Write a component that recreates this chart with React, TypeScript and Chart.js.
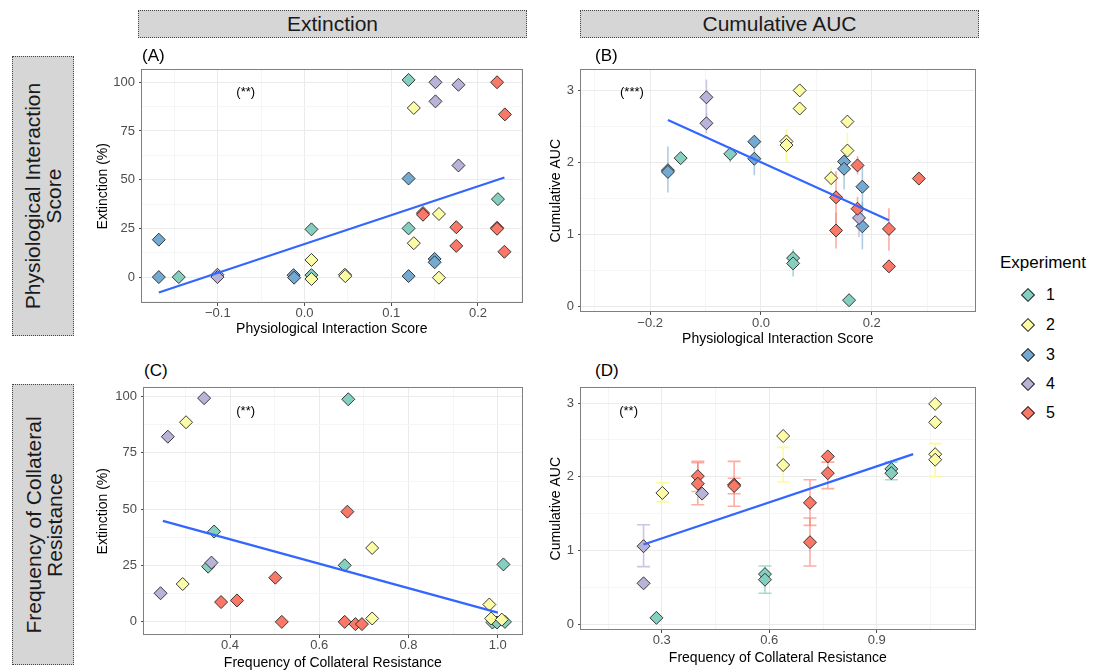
import React, { useEffect, useRef } from 'react';
import { Chart, registerables } from 'chart.js';

Chart.register(...registerables);

const FONT = '"Liberation Sans", Arial, Helvetica, sans-serif';

// Experiment groups and their fill colours
const experiments = ['1', '2', '3', '4', '5'];
const expColors = ['#85CFC0', '#FCFBA6', '#74AAD2', '#B8B3D9', '#F97868'];
const expBarColors = [
  'rgba(133,207,192,0.75)',
  'rgba(252,251,140,0.85)',
  'rgba(116,170,210,0.6)',
  'rgba(184,179,217,0.75)',
  'rgba(249,120,104,0.6)',
];

// (A) Physiological Interaction Score vs Extinction (%) — [score, extinction]
const aExp1 = [[0.120, 101.2], [-0.145, 0], [0.008, 24.5], [0.008, 1], [0.120, 25], [0.223, 40]];
const aExp2 = [[0.126, 86.8], [0.008, 8.8], [0.008, -1], [0.0466, 1.2], [0.047, 0.5], [0.155, 32.4], [0.126, 17.4], [0.155, -0.3]];
const aExp3 = [[-0.168, 19.2], [-0.168, 0], [-0.0126, 1], [-0.012, -0.3], [0.120, 50.6], [0.120, 0.5], [0.150, 9.3], [0.150, 7.6]];
const aExp4 = [[-0.1004, 1.2], [-0.1004, 0], [0.151, 100], [0.151, 90.2], [0.1775, 98.7], [0.1775, 57.3]];
const aExp5 = [[0.222, 100], [0.231, 83.5], [0.1366, 32.9], [0.1366, 32], [0.175, 25.6], [0.175, 16], [0.222, 25.3], [0.222, 24.8], [0.2305, 13]];
const aFit = [[-0.168, -7.9], [0.2305, 51.1]];

// (B) Physiological Interaction Score vs Cumulative AUC — [score, auc, low, high]
const bExp1 = [[-0.145, 2.058, null, null], [-0.0555, 2.117, 2.0, 2.2], [0.058, 0.668, null, null], [0.058, 0.594, 0.41, 0.79], [0.159, 0.082, null, null]];
const bExp2 = [[0.0699, 3.0, null, null], [0.0699, 2.748, null, null], [0.046, 2.29, null, null], [0.046, 2.24, 2.0, 2.46], [0.156, 2.566, null, null], [0.156, 2.163, 1.95, 2.41], [0.1266, 1.78, 1.66, 1.93]];
const bExp3 = [[-0.168, 1.89, null, null], [-0.168, 1.866, 1.58, 2.22], [-0.012, 2.287, null, null], [-0.012, 2.05, 1.82, 2.25], [0.150, 2.01, null, null], [0.150, 1.91, 1.62, 2.0], [0.183, 1.66, 1.37, 1.96], [0.183, 1.11, 0.79, 1.45]];
const bExp4 = [[-0.0985, 2.904, 2.65, 3.15], [-0.0985, 2.543, 2.4, 2.68], [0.177, 1.226, 0.96, 1.4]];
const bExp5 = [[0.1355, 1.513, 1.15, 1.875], [0.1355, 1.052, 0.8, 1.3], [0.1743, 1.957, 1.83, 2.085], [0.1743, 1.354, 1.21, 1.52], [0.231, 1.074, 0.77, 1.36], [0.231, 0.553, null, null], [0.285, 1.774, null, null]];
const bFit = [[-0.168, 2.588], [0.231, 1.194]];

// (C) Frequency of Collateral Resistance vs Extinction (%)
const cExp1 = [[0.665, 98.8], [0.3644, 40.1], [0.351, 24.5], [0.657, 25.1], [1.0126, 25.5], [0.988, -0.3], [0.998, -0.3], [1.016, 0]];
const cExp2 = [[0.3015, 88.6], [0.294, 16.8], [0.7185, 32.8], [0.7185, 1.5], [0.981, 7.7], [0.985, 1.5], [1.009, 1.0]];
const cExp3: number[][] = [];
const cExp4 = [[0.342, 99.3], [0.2607, 82.2], [0.3585, 26.3], [0.2444, 12.7]];
const cExp5 = [[0.663, 48.9], [0.5015, 19.6], [0.38, 8.8], [0.4156, 9.5], [0.516, 0], [0.657, 0], [0.681, -1], [0.6956, -1]];
const cFit = [[0.2496, 44.8], [1.0, 4.1]];

// (D) Frequency of Collateral Resistance vs Cumulative AUC — [freq, auc, low, high]
const dExp1 = [[0.2852, 0.085, null, null], [0.588, 0.679, null, null], [0.588, 0.603, 0.42, 0.79], [0.9406, 2.107, null, null], [0.9406, 2.05, 1.96, 2.2]];
const dExp2 = [[0.3018, 1.781, 1.66, 1.92], [0.6388, 2.554, null, null], [0.6388, 2.16, 1.93, 2.4], [1.063, 2.99, null, null], [1.063, 2.74, null, null], [1.063, 2.307, null, null], [1.063, 2.232, 2.005, 2.45]];
const dExp3: (number | null)[][] = [];
const dExp4 = [[0.2492, 1.058, 0.78, 1.35], [0.2492, 0.554, null, null], [0.4126, 1.772, null, null]];
const dExp5 = [[0.4006, 2.009, 1.8, 2.21], [0.4006, 1.906, 1.62, 2.19], [0.502, 1.893, 1.6, 2.21], [0.502, 1.875, 1.77, 1.98], [0.7136, 1.647, 1.34, 1.96], [0.7136, 1.112, 0.79, 1.44], [0.7634, 2.277, null, null], [0.7634, 2.049, 1.84, 2.2]];
const dFit = [[0.2492, 1.08], [1.0016, 2.308]];

// Axis breaks and labels
const scoreTicksA = [-0.1, 0, 0.1, 0.2];
const scoreLabelsA = ['\u22120.1', '0.0', '0.1', '0.2'];
const scoreMinorA = [-0.15, -0.05, 0.05, 0.15, 0.25];
const scoreTicksB = [-0.2, 0, 0.2];
const scoreLabelsB = ['\u22120.2', '0.0', '0.2'];
const scoreMinorB = [-0.3, -0.1, 0.1, 0.3];
const freqTicksC = [0.4, 0.6, 0.8, 1.0];
const freqLabelsC = ['0.4', '0.6', '0.8', '1.0'];
const freqMinorC = [0.3, 0.5, 0.7, 0.9];
const freqTicksD = [0.3, 0.6, 0.9];
const freqLabelsD = ['0.3', '0.6', '0.9'];
const freqMinorD = [0.15, 0.45, 0.75, 1.05];
const extTicks = [0, 25, 50, 75, 100];
const extLabels = ['0', '25', '50', '75', '100'];
const extMinorA = [-12.5, 12.5, 37.5, 62.5, 87.5];
const extMinorC = [12.5, 37.5, 62.5, 87.5];
const aucTicks = [0, 1, 2, 3];
const aucLabels = ['0', '1', '2', '3'];
const aucMinor = [0.5, 1.5, 2.5];

const colTitles = ['Extinction', 'Cumulative AUC'];
const rowTitles = [['Physiological Interaction', 'Score'], ['Frequency of Collateral', 'Resistance']];

type Row = (number | null)[];

interface PanelCfg {
  left: number; top: number; width: number; height: number;
  yW: number; xH: number; xPad: number;
  xMin: number; xMax: number; yMin: number; yMax: number;
  xMajor: number[]; xLabels: string[]; xMinor: number[];
  yMajor: number[]; yLabels: string[]; yMinor: number[];
  xTitle: string; yTitle: string;
  series: Row[][]; fit: number[][];
  note: { x: number; y: number; text: string };
  cap: number;
}

const errorBarPlugin = {
  id: 'errorBars',
  beforeDatasetsDraw(chart: any, _args: any, opts: any) {
    const { ctx } = chart;
    const xs = chart.scales.x;
    const ys = chart.scales.y;
    const cap = opts.cap || 0;
    chart.data.datasets.forEach((ds: any) => {
      if (!ds.errorBars || !ds.errorBars.length) return;
      ctx.save();
      ctx.strokeStyle = ds.errorColor;
      ctx.lineWidth = 1.6;
      ds.errorBars.forEach((b: number[]) => {
        const px = xs.getPixelForValue(b[0]);
        const p1 = ys.getPixelForValue(b[1]);
        const p2 = ys.getPixelForValue(b[2]);
        ctx.beginPath();
        ctx.moveTo(px, p1);
        ctx.lineTo(px, p2);
        if (cap > 0) {
          ctx.moveTo(px - cap, p1);
          ctx.lineTo(px + cap, p1);
          ctx.moveTo(px - cap, p2);
          ctx.lineTo(px + cap, p2);
        }
        ctx.stroke();
      });
      ctx.restore();
    });
  },
};

const framePlugin = {
  id: 'frame',
  afterDraw(chart: any) {
    const { ctx, chartArea: a } = chart;
    ctx.save();
    ctx.strokeStyle = '#7f7f7f';
    ctx.lineWidth = 1;
    ctx.strokeRect(Math.round(a.left) - 0.5, Math.round(a.top) + 0.5, Math.round(a.right - a.left) + 1, Math.round(a.bottom - a.top) - 1);
    ctx.restore();
  },
};

const notePlugin = {
  id: 'note',
  afterDatasetsDraw(chart: any, _args: any, opts: any) {
    if (!opts || !opts.text) return;
    const { ctx } = chart;
    const px = chart.scales.x.getPixelForValue(opts.x);
    const py = chart.scales.y.getPixelForValue(opts.y);
    ctx.save();
    ctx.fillStyle = '#000';
    ctx.font = `13px ${FONT}`;
    ctx.textAlign = 'center';
    ctx.textBaseline = 'middle';
    ctx.fillText(opts.text, px, py);
    ctx.restore();
  },
};

const near = (arr: number[], v: number) => arr.findIndex((m) => Math.abs(m - v) < 1e-9);

function Panel({ cfg }: { cfg: PanelCfg }) {
  const ref = useRef<HTMLCanvasElement>(null);
  useEffect(() => {
    const xTicks = [...cfg.xMajor, ...cfg.xMinor].sort((p, q) => p - q);
    const yTicks = [...cfg.yMajor, ...cfg.yMinor].sort((p, q) => p - q);
    const gridColor = (majors: number[]) => (c: any) =>
      c.tick && near(majors, c.tick.value) >= 0 ? '#EBEBEB' : '#F5F5F5';
    const tickColor = (majors: number[]) => (c: any) =>
      c.tick && near(majors, c.tick.value) >= 0 ? '#4d4d4d' : 'rgba(0,0,0,0)';

    const pointSets = cfg.series.map((rows, i) => ({
      type: 'scatter' as const,
      label: experiments[i],
      data: rows.map((r) => ({ x: r[0] as number, y: r[1] as number })),
      errorBars: rows.filter((r) => r.length > 2 && r[2] != null).map((r) => [r[0], r[2], r[3]]),
      errorColor: expBarColors[i],
      pointStyle: 'rectRot',
      pointRadius: 6.5,
      pointHoverRadius: 6.5,
      backgroundColor: expColors[i],
      borderColor: '#262626',
      borderWidth: 0.9,
      order: 5 - i,
    }));

    const chart = new Chart(ref.current as HTMLCanvasElement, {
      type: 'scatter',
      data: {
        datasets: [
          {
            type: 'line',
            label: 'fit',
            data: cfg.fit.map((p) => ({ x: p[0], y: p[1] })),
            borderColor: '#3366FF',
            borderWidth: 2.2,
            pointRadius: 0,
            fill: false,
            tension: 0,
            order: 0,
          } as any,
          ...(pointSets as any[]),
        ],
      },
      options: {
        animation: false,
        responsive: false,
        maintainAspectRatio: false,
        layout: { padding: { left: 0, top: 4, right: 4, bottom: 0 } },
        plugins: {
          legend: { display: false },
          tooltip: { enabled: false },
          errorBars: { cap: cfg.cap },
          note: cfg.note,
        } as any,
        scales: {
          x: {
            type: 'linear',
            position: 'bottom',
            min: cfg.xMin,
            max: cfg.xMax,
            afterBuildTicks: (s: any) => { s.ticks = xTicks.map((v) => ({ value: v })); },
            afterFit: (s: any) => {
              s.height = cfg.xH;
              s.paddingLeft = 0; s.paddingRight = 0; s.paddingTop = 0; s.paddingBottom = 0;
            },
            ticks: {
              autoSkip: false,
              maxRotation: 0,
              padding: cfg.xPad,
              color: '#4d4d4d',
              font: { size: 13, family: FONT },
              callback: (v: any) => { const k = near(cfg.xMajor, Number(v)); return k >= 0 ? cfg.xLabels[k] : ''; },
            },
            grid: { color: gridColor(cfg.xMajor), lineWidth: 1, tickLength: 3, tickColor: tickColor(cfg.xMajor), drawTicks: true },
            border: { display: false },
            title: { display: true, text: cfg.xTitle, color: '#000', font: { size: 14, family: FONT }, padding: 0 },
          },
          y: {
            type: 'linear',
            position: 'left',
            min: cfg.yMin,
            max: cfg.yMax,
            afterBuildTicks: (s: any) => { s.ticks = yTicks.map((v) => ({ value: v })); },
            afterFit: (s: any) => {
              s.width = cfg.yW;
              s.paddingLeft = 0; s.paddingRight = 0; s.paddingTop = 0; s.paddingBottom = 0;
            },
            ticks: {
              autoSkip: false,
              padding: 4,
              color: '#4d4d4d',
              font: { size: 13, family: FONT },
              callback: (v: any) => { const k = near(cfg.yMajor, Number(v)); return k >= 0 ? cfg.yLabels[k] : ''; },
            },
            grid: { color: gridColor(cfg.yMajor), lineWidth: 1, tickLength: 3, tickColor: tickColor(cfg.yMajor), drawTicks: true },
            border: { display: false },
            title: { display: true, text: cfg.yTitle, color: '#000', font: { size: 14, family: FONT }, padding: 0 },
          },
        },
      } as any,
      plugins: [errorBarPlugin, notePlugin, framePlugin],
    });
    return () => chart.destroy();
  }, [cfg]);

  return (
    <canvas
      ref={ref}
      width={cfg.width}
      height={cfg.height}
      style={{ position: 'absolute', left: cfg.left, top: cfg.top, width: cfg.width, height: cfg.height }}
    />
  );
}

const panels: PanelCfg[] = [
  {
    left: 95, top: 62, width: 434, height: 276, yW: 47, xH: 35, xPad: 0,
    xMin: -0.1874, xMax: 0.2503, yMin: -13.3, yMax: 106.6,
    xMajor: scoreTicksA, xLabels: scoreLabelsA, xMinor: scoreMinorA,
    yMajor: extTicks, yLabels: extLabels, yMinor: extMinorA,
    xTitle: 'Physiological Interaction Score', yTitle: 'Extinction (%)',
    series: [aExp1, aExp2, aExp3, aExp4, aExp5], fit: aFit,
    note: { x: -0.0678, y: 94.8, text: '(**)' }, cap: 0,
  },
  {
    left: 548, top: 62, width: 434, height: 286, yW: 33, xH: 36, xPad: 1,
    xMin: -0.3249, xMax: 0.3856, yMin: -0.082, yMax: 3.292,
    xMajor: scoreTicksB, xLabels: scoreLabelsB, xMinor: scoreMinorB,
    yMajor: aucTicks, yLabels: aucLabels, yMinor: aucMinor,
    xTitle: 'Physiological Interaction Score', yTitle: 'Cumulative AUC',
    series: [bExp1, bExp2, bExp3, bExp4, bExp5], fit: bFit,
    note: { x: -0.233, y: 2.97, text: '(***)' }, cap: 0,
  },
  {
    left: 95, top: 380, width: 434, height: 292, yW: 49, xH: 37, xPad: 0,
    xMin: 0.2073, xMax: 1.0533, yMin: -5.83, yMax: 104.07,
    xMajor: freqTicksC, xLabels: freqLabelsC, xMinor: freqMinorC,
    yMajor: extTicks, yLabels: extLabels, yMinor: extMinorC,
    xTitle: 'Frequency of Collateral Resistance', yTitle: 'Extinction (%)',
    series: [cExp1, cExp2, cExp3, cExp4, cExp5], fit: cFit,
    note: { x: 0.435, y: 93.5, text: '(**)' }, cap: 0,
  },
  {
    left: 548, top: 380, width: 434, height: 287, yW: 33, xH: 37, xPad: 0,
    xMin: 0.0746, xMax: 1.173, yMin: -0.08, yMax: 3.214,
    xMajor: freqTicksD, xLabels: freqLabelsD, xMinor: freqMinorD,
    yMajor: aucTicks, yLabels: aucLabels, yMinor: aucMinor,
    xTitle: 'Frequency of Collateral Resistance', yTitle: 'Cumulative AUC',
    series: [dExp1, dExp2, dExp3, dExp4, dExp5], fit: dFit,
    note: { x: 0.2075, y: 2.89, text: '(**)' }, cap: 6.5,
  },
];

const tags = [
  { text: '(A)', left: 142, top: 47 },
  { text: '(B)', left: 595, top: 47 },
  { text: '(C)', left: 144, top: 362 },
  { text: '(D)', left: 595, top: 362 },
];

const stripStyle: React.CSSProperties = {
  position: 'absolute',
  background: '#D6D6D6',
  border: '1px dotted #444',
  boxSizing: 'border-box',
  color: '#1a1a1a',
  fontFamily: FONT,
  fontSize: 21,
};

function SideStrip({ top, height, lines }: { top: number; height: number; lines: string[] }) {
  const w = 62;
  return (
    <div style={{ ...stripStyle, left: 12, top, width: w, height }}>
      <div
        style={{
          position: 'absolute',
          width: height,
          height: w,
          left: (w - height) / 2 - 1,
          top: (height - w) / 2 - 1,
          transform: 'rotate(-90deg)',
          display: 'flex',
          flexDirection: 'column',
          alignItems: 'center',
          justifyContent: 'center',
          lineHeight: '21px',
          textAlign: 'center',
        }}
      >
        {lines.map((l) => (<div key={l}>{l}</div>))}
      </div>
    </div>
  );
}

export default function App() {
  const legendY = [295, 325, 355, 384, 413];
  return (
    <div style={{ position: 'absolute', left: 0, top: 0, width: 1093, height: 672, background: '#fff', overflow: 'hidden', fontFamily: FONT }}>
      {/* column strips */}
      <div style={{ ...stripStyle, left: 138, top: 10, width: 389, height: 28, display: 'flex', alignItems: 'center', justifyContent: 'center' }}>{colTitles[0]}</div>
      <div style={{ ...stripStyle, left: 580, top: 10, width: 399, height: 28, display: 'flex', alignItems: 'center', justifyContent: 'center' }}>{colTitles[1]}</div>
      {/* row strips */}
      <SideStrip top={56} height={280} lines={rowTitles[0]} />
      <SideStrip top={384} height={281} lines={rowTitles[1]} />

      {panels.map((p, i) => (<Panel key={i} cfg={p} />))}

      {tags.map((t) => (
        <div key={t.text} style={{ position: 'absolute', left: t.left, top: t.top, fontSize: 17, lineHeight: '17px', color: '#000' }}>{t.text}</div>
      ))}

      {/* legend */}
      <div style={{ position: 'absolute', left: 1000, top: 253, fontSize: 17, lineHeight: '20px', color: '#000' }}>Experiment</div>
      {experiments.map((e, i) => (
        <React.Fragment key={e}>
          <div style={{ position: 'absolute', left: 1023, top: legendY[i] - 5, width: 8, height: 8, background: expColors[i], border: '1px solid #262626', transform: 'rotate(45deg)' }} />
          <div style={{ position: 'absolute', left: 1046, top: legendY[i] - 10, fontSize: 16, lineHeight: '20px', color: '#000' }}>{e}</div>
        </React.Fragment>
      ))}
    </div>
  );
}
